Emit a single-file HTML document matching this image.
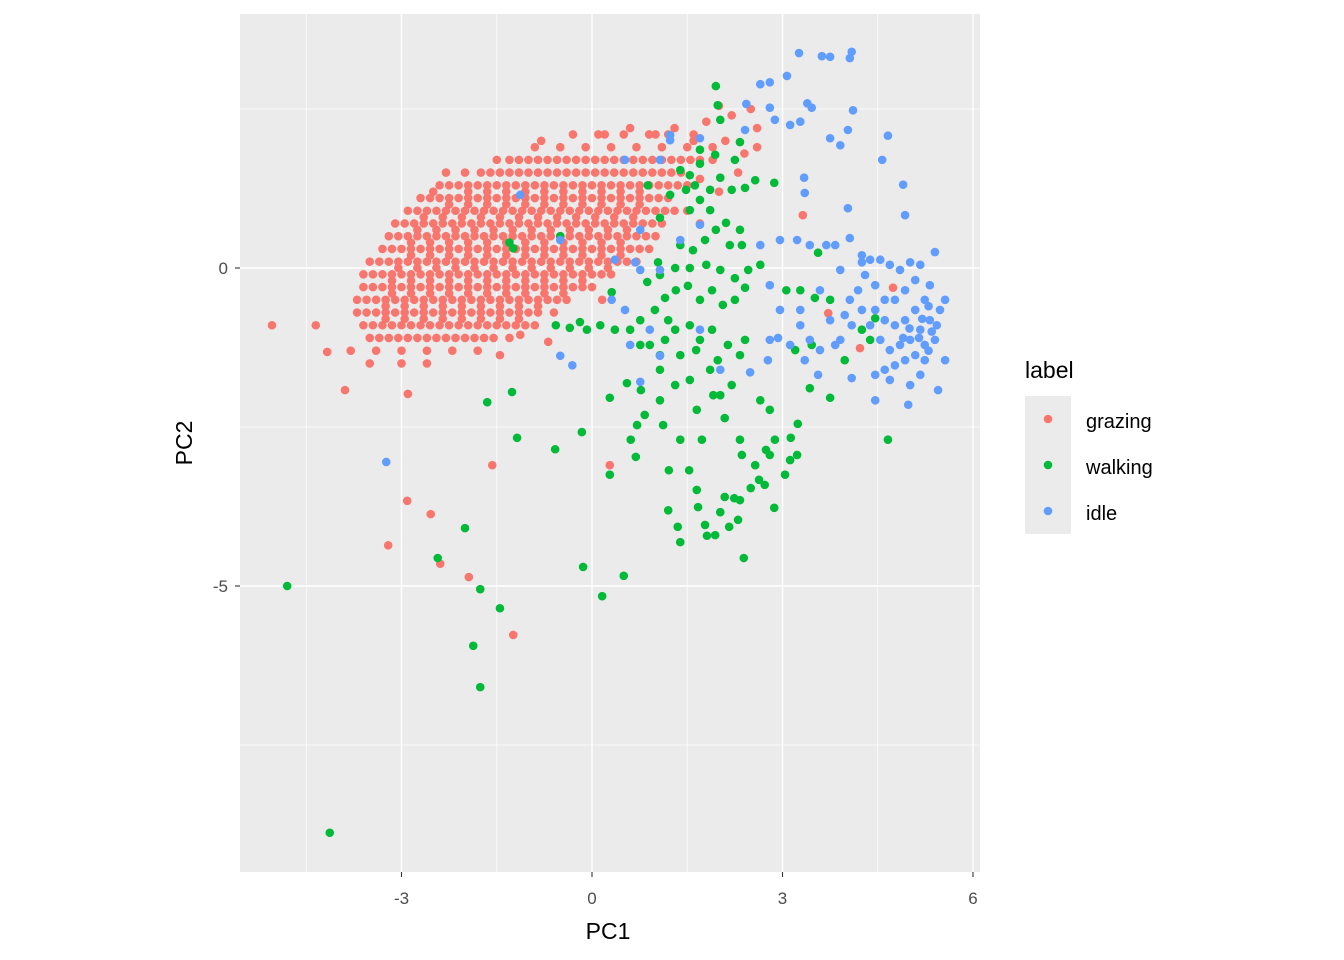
<!DOCTYPE html>
<html><head><meta charset="utf-8"><style>
body{margin:0;background:#fff;}
svg{display:block;font-family:"Liberation Sans",Arial,sans-serif;}
</style></head><body>
<svg id="chart" width="1344" height="960" viewBox="0 0 1344 960">
<rect x="0" y="0" width="1344" height="960" fill="#fff"/>
<rect x="240" y="14" width="740" height="858" fill="#EBEBEB"/>
<g id="grid"></g>
<g id="points"></g>
<g id="axes"></g>
<text x="608" y="939" font-size="23" text-anchor="middle" fill="#000">PC1</text>
<text x="192" y="443" font-size="23" text-anchor="middle" fill="#000" transform="rotate(-90 192 443)">PC2</text>
<g>
<text x="1025" y="378" font-size="23" fill="#000">label</text>
<rect x="1025" y="396" width="46" height="138" fill="#EBEBEB"/>
<circle cx="1048" cy="419" r="4.3" fill="#F8766D"/>
<circle cx="1048" cy="465" r="4.3" fill="#00BA38"/>
<circle cx="1048" cy="511" r="4.3" fill="#619CFF"/>
<text x="1086" y="428" font-size="20" fill="#000">grazing</text>
<text x="1086" y="474" font-size="20" fill="#000">walking</text>
<text x="1086" y="520" font-size="20" fill="#000">idle</text>
</g>
</svg>
<script>
const xTicks=[-3,0,3,6];
const yTicks=[0,-5];
const xMinor=[-4.5,-1.5,1.5,4.5];
const yMinor=[2.5,-2.5,-7.5];
const grazing=[
[-0.3,2.1],[0.1,2.1],[0.5,2.1],[0.9,2.1],[1.2,2.1],[1.6,2.1],
[-0.9,1.9],[-0.5,1.9],[-0.1,1.9],[0.3,1.9],[0.7,1.9],[1.1,1.9],[1.5,1.9],[1.9,1.9],
[-1.3,1.7],[-1.0,1.7],[-0.7,1.7],[-0.4,1.7],[-0.1,1.7],[0.2,1.7],[0.5,1.7],[0.8,1.7],[1.1,1.7],[1.4,1.7],[1.7,1.7],
[-2.0,1.5],[-1.6,1.5],[-1.3,1.5],[-1.0,1.5],[-0.7,1.5],[-0.4,1.5],[-0.1,1.5],[0.2,1.5],[0.5,1.5],[0.8,1.5],[1.1,1.5],[1.4,1.5],
[-2.4,1.3],[-2.1,1.3],[-1.8,1.3],[-1.5,1.3],[-1.2,1.3],[-0.9,1.3],[-0.6,1.3],[-0.3,1.3],[0,1.3],[0.3,1.3],[0.6,1.3],[0.9,1.3],[1.2,1.3],[1.5,1.3],
[-2.7,1.1],[-2.4,1.1],[-2.1,1.1],[-1.8,1.1],[-1.5,1.1],[-1.2,1.1],[-0.9,1.1],[-0.6,1.1],[-0.3,1.1],[0,1.1],[0.3,1.1],[0.6,1.1],[0.9,1.1],[1.2,1.1],
[-2.9,0.9],[-2.6,0.9],[-2.3,0.9],[-2.0,0.9],[-1.7,0.9],[-1.4,0.9],[-1.1,0.9],[-0.8,0.9],[-0.5,0.9],[-0.2,0.9],[0.1,0.9],[0.4,0.9],[0.7,0.9],[1.0,0.9],[1.3,0.9],
[-3.1,0.7],[-2.8,0.7],[-2.5,0.7],[-2.2,0.7],[-1.9,0.7],[-1.6,0.7],[-1.3,0.7],[-1.0,0.7],[-0.7,0.7],[-0.4,0.7],[-0.1,0.7],[0.2,0.7],[0.5,0.7],[0.8,0.7],[1.1,0.7],
[-3.2,0.5],[-2.9,0.5],[-2.6,0.5],[-2.3,0.5],[-2.0,0.5],[-1.7,0.5],[-1.4,0.5],[-1.1,0.5],[-0.8,0.5],[-0.5,0.5],[-0.2,0.5],[0.1,0.5],[0.4,0.5],[0.7,0.5],[1.0,0.5],
[-3.3,0.3],[-3.0,0.3],[-2.7,0.3],[-2.4,0.3],[-2.1,0.3],[-1.8,0.3],[-1.5,0.3],[-1.2,0.3],[-0.9,0.3],[-0.6,0.3],[-0.3,0.3],[0,0.3],[0.3,0.3],[0.6,0.3],[0.9,0.3],
[-3.5,0.1],[-3.2,0.1],[-2.9,0.1],[-2.6,0.1],[-2.3,0.1],[-2.0,0.1],[-1.7,0.1],[-1.4,0.1],[-1.1,0.1],[-0.8,0.1],[-0.5,0.1],[-0.2,0.1],[0.1,0.1],[0.4,0.1],[0.7,0.1],
[-3.6,-0.1],[-3.3,-0.1],[-3.0,-0.1],[-2.7,-0.1],[-2.4,-0.1],[-2.1,-0.1],[-1.8,-0.1],[-1.5,-0.1],[-1.2,-0.1],[-0.9,-0.1],[-0.6,-0.1],[-0.3,-0.1],[0,-0.1],[0.3,-0.1],
[-3.6,-0.3],[-3.3,-0.3],[-3.0,-0.3],[-2.7,-0.3],[-2.4,-0.3],[-2.1,-0.3],[-1.8,-0.3],[-1.5,-0.3],[-1.2,-0.3],[-0.9,-0.3],[-0.6,-0.3],[-0.3,-0.3],[0,-0.3],
[-3.7,-0.5],[-3.4,-0.5],[-3.1,-0.5],[-2.8,-0.5],[-2.5,-0.5],[-2.2,-0.5],[-1.9,-0.5],[-1.6,-0.5],[-1.3,-0.5],[-1.0,-0.5],[-0.7,-0.5],[-0.4,-0.5],
[-3.7,-0.7],[-3.4,-0.7],[-3.1,-0.7],[-2.8,-0.7],[-2.5,-0.7],[-2.2,-0.7],[-1.9,-0.7],[-1.6,-0.7],[-1.3,-0.7],[-1.0,-0.7],[-0.6,-0.7],
[-3.6,-0.9],[-3.3,-0.9],[-3.0,-0.9],[-2.7,-0.9],[-2.4,-0.9],[-2.1,-0.9],[-1.8,-0.9],[-1.5,-0.9],[-1.2,-0.9],[-0.9,-0.9],
[-3.5,-1.1],[-3.2,-1.1],[-2.9,-1.1],[-2.6,-1.1],[-2.3,-1.1],[-2.0,-1.1],[-1.7,-1.1],[-1.3,-1.1],
[-3.8,-1.3],[-3.4,-1.3],[-3.0,-1.3],[-2.6,-1.3],[-2.2,-1.3],[-1.8,-1.3],
[-3.5,-1.5],[-3.0,-1.5],[-2.6,-1.5],
[-1.95,1.2],[-1.65,1.2],[-1.35,1.2],[-1.05,1.2],[-0.75,1.2],[-0.45,1.2],[-0.15,1.2],[0.15,1.2],[0.45,1.2],[0.75,1.2],
[-2.25,1.0],[-1.95,1.0],[-1.65,1.0],[-1.35,1.0],[-1.05,1.0],[-0.75,1.0],[-0.45,1.0],[-0.15,1.0],[0.15,1.0],[0.45,1.0],[0.75,1.0],
[-2.65,0.8],[-2.35,0.8],[-2.05,0.8],[-1.75,0.8],[-1.45,0.8],[-1.15,0.8],[-0.85,0.8],[-0.55,0.8],[-0.25,0.8],[0.05,0.8],[0.35,0.8],[0.65,0.8],
[-2.75,0.6],[-2.45,0.6],[-2.15,0.6],[-1.85,0.6],[-1.55,0.6],[-1.25,0.6],[-0.95,0.6],[-0.65,0.6],[-0.35,0.6],[-0.05,0.6],[0.25,0.6],[0.55,0.6],
[-2.85,0.4],[-2.55,0.4],[-2.25,0.4],[-1.95,0.4],[-1.65,0.4],[-1.35,0.4],[-1.05,0.4],[-0.75,0.4],[-0.45,0.4],[-0.15,0.4],[0.15,0.4],[0.45,0.4],
[-2.85,0.2],[-2.55,0.2],[-2.25,0.2],[-1.95,0.2],[-1.65,0.2],[-1.35,0.2],[-1.05,0.2],[-0.75,0.2],[-0.45,0.2],[-0.15,0.2],[0.15,0.2],[0.45,0.2],
[-3.05,0.0],[-2.75,0.0],[-2.45,0.0],[-2.15,0.0],[-1.85,0.0],[-1.55,0.0],[-1.25,0.0],[-0.95,0.0],[-0.65,0.0],[-0.35,0.0],[-0.05,0.0],[0.25,0.0],
[-3.15,-0.2],[-2.85,-0.2],[-2.55,-0.2],[-2.25,-0.2],[-1.95,-0.2],[-1.65,-0.2],[-1.35,-0.2],[-1.05,-0.2],[-0.75,-0.2],[-0.45,-0.2],[-0.15,-0.2],
[-3.15,-0.4],[-2.85,-0.4],[-2.55,-0.4],[-2.25,-0.4],[-1.95,-0.4],[-1.65,-0.4],[-1.35,-0.4],[-1.05,-0.4],[-0.75,-0.4],[-0.45,-0.4],
[-3.25,-0.6],[-2.95,-0.6],[-2.65,-0.6],[-2.35,-0.6],[-2.05,-0.6],[-1.75,-0.6],[-1.45,-0.6],[-1.15,-0.6],[-0.85,-0.6],
[-3.25,-0.8],[-2.95,-0.8],[-2.65,-0.8],[-2.35,-0.8],[-2.05,-0.8],[-1.75,-0.8],[-1.45,-0.8],[-1.15,-0.8],
[-1.15,1.7],[-0.85,1.7],[-0.55,1.7],[-0.25,1.7],[0.05,1.7],[0.35,1.7],[0.65,1.7],[0.95,1.7],[1.25,1.7],[1.55,1.7],
[-1.75,1.5],[-1.45,1.5],[-1.15,1.5],[-0.85,1.5],[-0.55,1.5],[-0.25,1.5],[0.05,1.5],[0.35,1.5],[0.65,1.5],[0.95,1.5],[1.25,1.5],
[-2.25,1.3],[-1.95,1.3],[-1.65,1.3],[-1.35,1.3],[-1.05,1.3],[-0.75,1.3],[-0.45,1.3],[-0.15,1.3],[0.15,1.3],[0.45,1.3],[0.75,1.3],[1.05,1.3],[1.35,1.3],
[-2.55,1.1],[-2.25,1.1],[-1.95,1.1],[-1.65,1.1],[-1.35,1.1],[-1.05,1.1],[-0.75,1.1],[-0.45,1.1],[-0.15,1.1],[0.15,1.1],[0.45,1.1],[0.75,1.1],[1.05,1.1],
[-2.75,0.9],[-2.45,0.9],[-2.15,0.9],[-1.85,0.9],[-1.55,0.9],[-1.25,0.9],[-0.95,0.9],[-0.65,0.9],[-0.35,0.9],[-0.05,0.9],[0.25,0.9],[0.55,0.9],[0.85,0.9],[1.15,0.9],
[-2.95,0.7],[-2.65,0.7],[-2.35,0.7],[-2.05,0.7],[-1.75,0.7],[-1.45,0.7],[-1.15,0.7],[-0.85,0.7],[-0.55,0.7],[-0.25,0.7],[0.05,0.7],[0.35,0.7],[0.65,0.7],[0.95,0.7],
[-3.05,0.5],[-2.75,0.5],[-2.45,0.5],[-2.15,0.5],[-1.85,0.5],[-1.55,0.5],[-1.25,0.5],[-0.95,0.5],[-0.65,0.5],[-0.35,0.5],[-0.05,0.5],[0.25,0.5],[0.55,0.5],[0.85,0.5],
[-3.15,0.3],[-2.85,0.3],[-2.55,0.3],[-2.25,0.3],[-1.95,0.3],[-1.65,0.3],[-1.35,0.3],[-1.05,0.3],[-0.75,0.3],[-0.45,0.3],[-0.15,0.3],[0.15,0.3],[0.45,0.3],[0.75,0.3],
[-3.35,0.1],[-3.05,0.1],[-2.75,0.1],[-2.45,0.1],[-2.15,0.1],[-1.85,0.1],[-1.55,0.1],[-1.25,0.1],[-0.95,0.1],[-0.65,0.1],[-0.35,0.1],[-0.05,0.1],[0.25,0.1],[0.55,0.1],
[-3.45,-0.1],[-3.15,-0.1],[-2.85,-0.1],[-2.55,-0.1],[-2.25,-0.1],[-1.95,-0.1],[-1.65,-0.1],[-1.35,-0.1],[-1.05,-0.1],[-0.75,-0.1],[-0.45,-0.1],[-0.15,-0.1],[0.15,-0.1],
[-3.45,-0.3],[-3.15,-0.3],[-2.85,-0.3],[-2.55,-0.3],[-2.25,-0.3],[-1.95,-0.3],[-1.65,-0.3],[-1.35,-0.3],[-1.05,-0.3],[-0.75,-0.3],[-0.45,-0.3],[-0.15,-0.3],
[-3.55,-0.5],[-3.25,-0.5],[-2.95,-0.5],[-2.65,-0.5],[-2.35,-0.5],[-2.05,-0.5],[-1.75,-0.5],[-1.45,-0.5],[-1.15,-0.5],[-0.85,-0.5],[-0.55,-0.5],
[-3.55,-0.7],[-3.25,-0.7],[-2.95,-0.7],[-2.65,-0.7],[-2.35,-0.7],[-2.05,-0.7],[-1.75,-0.7],[-1.45,-0.7],[-1.15,-0.7],[-0.85,-0.7],
[-3.45,-0.9],[-3.15,-0.9],[-2.85,-0.9],[-2.55,-0.9],[-2.25,-0.9],[-1.95,-0.9],[-1.65,-0.9],[-1.35,-0.9],[-1.05,-0.9],
[-3.35,-1.1],[-3.05,-1.1],[-2.75,-1.1],[-2.45,-1.1],[-2.15,-1.1],[-1.85,-1.1],[-1.55,-1.1],
[1.8,2.3],[2.0,2.55],[2.2,2.4],[1.6,2.0],[2.1,2.0],[2.4,1.8],[2.6,1.9],[1.9,1.7],[2.3,1.5],[1.7,1.4],[2.0,1.2],[1.5,0.9],[1.7,0.7],[2.6,2.2],[2.5,2.5],[1.3,2.2],[1.0,2.1],[0.6,2.2],[0.2,2.1],[-0.8,2.0],[-1.5,1.7],[-2.5,1.2],[-2.3,1.5],
[-5.04,-0.9],[-4.35,-0.9],[-4.17,-1.32],[-3.89,-1.92],[-2.9,-1.98],[-2.91,-3.66],[-2.54,-3.87],[-3.21,-4.36],[-2.39,-4.65],[-1.94,-4.86],[-1.24,-5.77],[-1.57,-3.1],[0.28,-3.1],[4.22,-1.26],[4.74,-0.31],[3.72,-0.71],[3.32,0.83],[-0.69,-1.16],[0.16,-0.5],[-1.45,-1.37],[-1.13,-1.05]
];
const walking=[
[-4.80,-5.0],[-4.13,-8.88],[-2.0,-4.09],[-2.43,-4.56],[-1.76,-5.05],[-1.87,-5.94],[-1.76,-6.59],[-1.45,-5.35],[-0.14,-4.70],[0.16,-5.16],[0.50,-4.84],[-1.65,-2.11],[-1.26,-1.95],[-1.18,-2.67],[-0.58,-2.85],[-0.16,-2.58],[0.28,-3.25],[0.28,-2.04],[0.55,-1.81],[0.77,-1.92],[0.69,-2.97],[0.61,-2.70],[0.71,-2.47],[0.83,-2.31],[1.07,-2.08],[1.12,-2.47],[1.39,-2.70],[1.20,-3.81],[1.35,-4.07],[1.39,-4.31],[1.21,-3.18],[1.53,-3.18],[1.65,-3.49],[1.67,-3.76],[1.78,-4.04],[1.81,-4.21],[1.94,-4.20],[2.02,-3.84],[2.16,-4.07],[2.30,-3.96],[2.39,-4.56],[2.33,-3.65],[2.24,-3.62],[2.09,-3.60],[2.50,-3.46],[2.72,-3.41],[2.87,-3.77],[2.63,-3.33],[2.74,-2.86],[3.04,-3.25],[3.23,-2.94],[2.88,-2.70],[2.80,-2.94],[2.33,-2.70],[2.36,-2.94],[2.57,-3.10],[2.09,-2.36],[1.91,-2.0],[1.73,-2.70],[1.65,-2.23],[2.02,-2.0],[2.20,-1.84],[1.86,-1.60],[1.54,-1.76],[1.31,-1.84],[1.07,-1.60],[0.91,-1.21],[1.15,-1.13],[1.31,-0.97],[1.54,-0.90],[1.70,-1.13],[1.89,-0.97],[2.14,-1.21],[2.41,-1.13],[2.33,-1.37],[1.98,-1.45],[1.64,-1.29],[1.39,-1.37],[1.07,-1.37],[0.76,-1.21],[0.60,-0.97],[0.36,-0.97],[0.13,-0.90],[-0.08,-0.97],[-0.35,-0.94],[-0.57,-0.90],[0.76,-0.82],[0.99,-0.66],[1.15,-0.47],[1.32,-0.35],[1.51,-0.28],[1.70,-0.50],[1.89,-0.35],[2.06,-0.58],[2.25,-0.50],[2.41,-0.31],[2.46,-0.03],[2.25,-0.16],[2.02,-0.03],[1.80,0.05],[1.54,0],[1.31,0],[1.07,-0.11],[1.39,0.36],[1.59,0.28],[1.78,0.44],[1.95,0.60],[2.17,0.36],[2.36,0.36],[2.33,0.60],[2.11,0.71],[1.86,0.91],[1.70,1.07],[1.54,0.91],[1.62,1.30],[1.86,1.23],[2.02,1.42],[2.20,1.23],[2.41,1.26],[2.57,1.38],[2.25,1.70],[2.33,1.98],[1.94,1.78],[1.70,1.86],[1.54,1.46],[1.48,1.23],[2.02,2.33],[1.95,2.86],[1.98,2.56],[2.87,1.34],[2.65,0.05],[3.06,-0.35],[3.28,-0.35],[3.51,-0.47],[3.20,-1.29],[3.46,-1.21],[3.75,-2.04],[3.43,-1.89],[3.13,-2.67],[3.24,-2.45],[3.12,-3.02],[2.80,-2.23],[2.65,-2.08],[3.98,-1.45],[4.46,-0.79],[4.66,-2.70],[3.56,0.24],[3.75,-0.50],[4.25,-0.97],[4.38,-1.13],[0.31,-0.38],[1.20,-0.82],[-0.19,-0.85],[-1.24,0.31],[0.87,-0.22],[1.04,0.09],[1.07,0.79],[1.23,1.15],[0.88,1.30],[1.39,1.54],[1.70,1.64],[-1.3,0.4],[-0.5,0.5]
];
const idle=[
[-3.24,-3.05],[3.26,3.38],[3.62,3.33],[3.75,3.32],[4.09,3.40],[4.06,3.30],[3.07,3.02],[2.80,2.92],[2.65,2.89],[2.43,2.58],[2.80,2.52],[3.39,2.59],[3.46,2.52],[4.11,2.48],[4.66,2.08],[4.03,2.17],[3.91,1.93],[4.57,1.70],[3.34,1.42],[3.35,1.18],[4.90,1.31],[4.03,0.94],[4.93,0.83],[2.88,2.33],[3.12,2.25],[3.28,2.30],[3.75,2.04],[2.65,0.36],[2.80,-0.27],[2.96,0.44],[3.23,0.44],[3.43,0.36],[3.69,0.36],[3.83,0.36],[4.06,0.47],[4.25,0.20],[4.38,0.13],[4.54,0.13],[4.69,0.05],[4.85,-0.03],[5.01,0.09],[5.17,0.05],[5.40,0.25],[5.56,-0.50],[5.32,-0.27],[5.09,-0.19],[4.93,-0.35],[4.77,-0.50],[4.61,-0.50],[4.46,-0.27],[4.30,-0.11],[4.19,-0.35],[4.06,-0.50],[3.98,-0.74],[4.09,-0.90],[3.91,-1.13],[3.83,-1.21],[3.59,-1.29],[3.43,-1.13],[3.28,-0.90],[3.75,-0.82],[4.25,-0.66],[4.38,-0.90],[4.54,-1.13],[4.69,-1.29],[4.85,-1.21],[5.01,-1.13],[5.17,-0.97],[5.32,-0.82],[5.48,-0.66],[5.24,-0.50],[5.09,-0.66],[4.93,-0.82],[4.77,-0.90],[4.61,-0.82],[4.46,-0.66],[5.40,-1.13],[5.24,-1.21],[5.09,-1.37],[4.93,-1.45],[4.77,-1.53],[4.61,-1.60],[4.46,-1.68],[4.69,-1.76],[5.01,-1.84],[5.45,-1.92],[5.56,-1.45],[5.43,-0.90],[5.24,-1.45],[5.17,-1.68],[4.46,-2.08],[4.98,-2.15],[4.09,-1.73],[3.56,-1.68],[3.35,-1.45],[3.12,-1.21],[2.93,-1.10],[2.80,-1.13],[2.96,-0.66],[3.28,-0.66],[3.59,-0.35],[3.91,-0.03],[4.25,0.09],[2.77,-1.45],[2.49,-1.64],[2.02,-1.60],[1.70,-0.97],[0.76,-1.79],[1.07,-1.38],[0.91,-0.97],[0.60,-1.21],[0.52,-0.66],[0.36,0.13],[0.68,0.09],[-0.50,-1.38],[-0.31,-1.53],[0.31,-0.50],[0.76,-0.03],[1.07,-0.03],[1.39,0.44],[1.70,0.68],[0.52,1.70],[1.07,1.70],[0.76,0.60],[1.23,2.09],[1.70,2.04],[-0.50,0.44],[-1.13,1.15],[2.41,2.17],[1.23,2.01],[5.3,-0.6],[5.2,-0.8],[5.35,-1.0],[5.15,-1.1],[5.0,-0.95],[4.9,-1.1],[5.3,-1.3]
];
const NS='http://www.w3.org/2000/svg';
const PX0=592, PXU=63.5, PY0=268, PYU=63.6;
function sx(v){return PX0+v*PXU;}
function sy(v){return PY0-v*PYU;}
const grid=document.getElementById('grid');
const pts=document.getElementById('points');
const axes=document.getElementById('axes');
function mk(tag,attrs,parent){const e=document.createElementNS(NS,tag);for(const k in attrs)e.setAttribute(k,attrs[k]);parent.appendChild(e);return e;}
xMinor.forEach(v=>{const l=mk('line',{x1:sx(v),x2:sx(v),y1:14,y2:872,stroke:'#fff','stroke-width':0.7},grid);

});
yMinor.forEach(v=>{const l=mk('line',{x1:240,x2:980,y1:sy(v),y2:sy(v),stroke:'#fff','stroke-width':0.7},grid);

});
xTicks.forEach(v=>{const l=mk('line',{x1:sx(v),x2:sx(v),y1:14,y2:872,stroke:'#fff','stroke-width':1.4},grid);


const t=mk('line',{x1:sx(v),x2:sx(v),y1:872,y2:877,stroke:'#333','stroke-width':1.1},axes);


const tx=mk('text',{x:sx(v),y:904,'font-size':17,'text-anchor':'middle',fill:'#4D4D4D'},axes);
tx.textContent=String(v);

});
yTicks.forEach(v=>{const l=mk('line',{x1:240,x2:980,y1:sy(v),y2:sy(v),stroke:'#fff','stroke-width':1.4},grid);


const t=mk('line',{x1:235,x2:240,y1:sy(v),y2:sy(v),stroke:'#333','stroke-width':1.1},axes);


const tx=mk('text',{x:228,y:sy(v)+6,'font-size':17,'text-anchor':'end',fill:'#4D4D4D'},axes);
tx.textContent=String(v);

});
function draw(arr,color,name){arr.forEach(p=>{const c=mk('circle',{cx:sx(p[0]),cy:sy(p[1]),r:4.3,fill:color},pts);

});}
draw(grazing,'#F8766D','point-grazing');
draw(walking,'#00BA38','point-walking');
draw(idle,'#619CFF','point-idle');
</script>
</body></html>
